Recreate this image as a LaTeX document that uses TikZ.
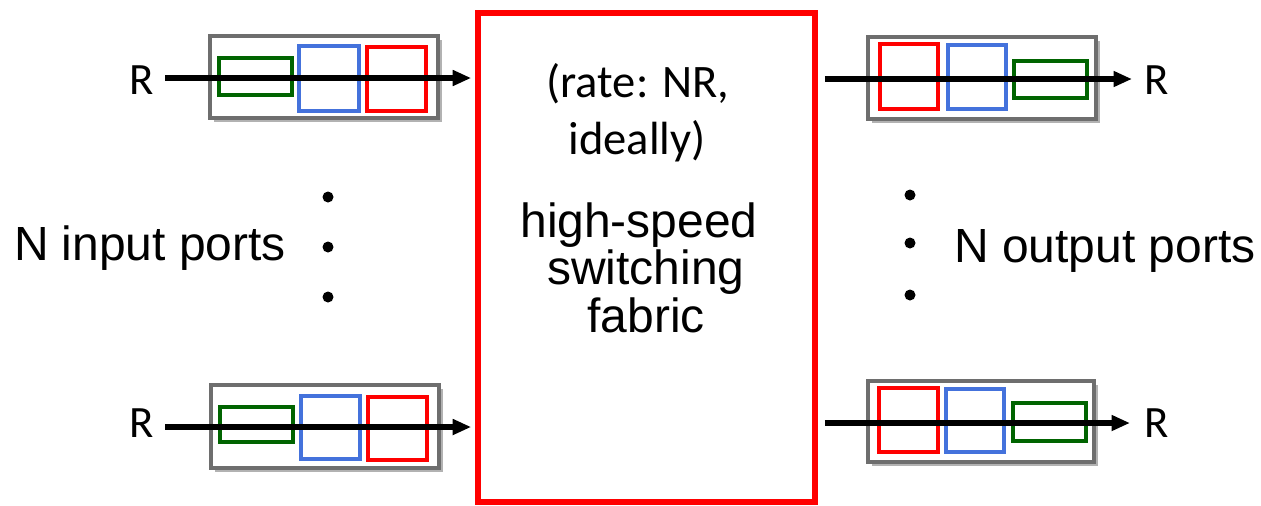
\documentclass[tikz,border=0pt]{standalone}
\usepackage{fontspec}
\setmainfont{Liberation Sans}
\newfontfamily\calib{Carlito}
\usetikzlibrary{arrows.meta,shadows}
\definecolor{qgreen}{RGB}{0,100,0}
\definecolor{qblue}{RGB}{68,114,220}
\definecolor{qred}{RGB}{255,0,0}
\definecolor{qgray}{RGB}{110,110,110}
\newcommand\pxl{0.02cm}
\begin{document}
\begin{tikzpicture}[x=0.02cm,y=-0.02cm,
  portbox/.style={draw=qgray,line width=1.9pt,fill=white,inner sep=0pt,
    drop shadow={shadow xshift=2pt,shadow yshift=-2.5pt,opacity=0.3,fill=black}},
  pkt/.style={draw=#1,line width=2pt,inner sep=0pt},
  arr/.style={line width=2.9pt,-{Triangle[length=10.5pt,width=8.5pt]}},
  fabricbox/.style={draw=qred,line width=3.2pt,fill=white,inner sep=0pt},
  arial/.style={font=\fontsize{27.3}{30}\selectfont,inner sep=0pt},
  calibri/.style={font=\calib\fontsize{26.5}{30}\selectfont,inner sep=0pt},
  rlab/.style={font=\calib\fontsize{25.5}{30}\selectfont,inner sep=0pt},
  dot/.style={circle,fill=black,inner sep=0pt,minimum size=11*\pxl}]
\useasboundingbox (0,0) rectangle (1261,505);

% switching fabric
\node[fabricbox,minimum width=337*\pxl,minimum height=489*\pxl] (fabric) at (646.5,257.5) {};
\node[calibri,anchor=base] (rate1) at (638,97) {(rate: NR,};
\node[calibri,anchor=base] (rate2) at (637,154) {ideally)};
\node[arial,anchor=base] (hs1) at (639,237) {high-speed};
\node[arial,anchor=base] (hs2) at (646,284) {switching};
\node[arial,anchor=base] (hs3) at (646,332) {fabric};

% input port top
\node[portbox,minimum width=228*\pxl,minimum height=82*\pxl] (btl) at (324,77) {};
\node[pkt=qgreen,minimum width=73*\pxl,minimum height=37*\pxl] (gtl) at (255.5,76.5) {};
\node[pkt=qblue,minimum width=60*\pxl,minimum height=65*\pxl] (ubtl) at (329,78.5) {};
\node[pkt=qred,minimum width=59*\pxl,minimum height=64*\pxl] (rdtl) at (396.5,79) {};
\node[rlab,anchor=base] (rtl) at (142,94) {R};
\coordinate (atl) at (165,78);
\draw[arr,shorten >=0.08cm] (atl) -- (atl -| fabric.west);

% input port bottom
\node[portbox,minimum width=228*\pxl,minimum height=83*\pxl] (bbl) at (325,426.5) {};
\node[pkt=qgreen,minimum width=73*\pxl,minimum height=35*\pxl] (gbl) at (256.5,424.5) {};
\node[pkt=qblue,minimum width=59*\pxl,minimum height=63*\pxl] (ubbl) at (330.5,427.5) {};
\node[pkt=qred,minimum width=59*\pxl,minimum height=63*\pxl] (rdbl) at (397.5,428.5) {};
\node[rlab,anchor=base] (rbl) at (142,437) {R};
\coordinate (abl) at (165,427);
\draw[arr,shorten >=0.08cm] (abl) -- (abl -| fabric.west);

% output port top
\node[portbox,minimum width=228*\pxl,minimum height=82*\pxl] (btr) at (982,78) {};
\node[pkt=qred,minimum width=58*\pxl,minimum height=65*\pxl] (rdtr) at (909,76.5) {};
\node[pkt=qblue,minimum width=58*\pxl,minimum height=64*\pxl] (ubtr) at (977,77) {};
\node[pkt=qgreen,minimum width=73*\pxl,minimum height=37*\pxl] (gtr) at (1050.5,79.5) {};
\node[rlab,anchor=base] (rtr) at (1157,94) {R};
\coordinate (atr) at (1132,79);
\draw[arr,shorten <=0.14cm] (atr -| fabric.east) -- (atr);

% output port bottom
\node[portbox,minimum width=226*\pxl,minimum height=81*\pxl] (bbr) at (981,421.5) {};
\node[pkt=qred,minimum width=59*\pxl,minimum height=64*\pxl] (rdbr) at (908.5,420) {};
\node[pkt=qblue,minimum width=58*\pxl,minimum height=63*\pxl] (ubbr) at (975,420.5) {};
\node[pkt=qgreen,minimum width=73*\pxl,minimum height=38*\pxl] (gbr) at (1049.5,422) {};
\node[rlab,anchor=base] (rbr) at (1157,437) {R};
\coordinate (abr) at (1130,423);
\draw[arr,shorten <=0.14cm] (abr -| fabric.east) -- (abr);

% labels and dots
\node[arial,anchor=base] (nin) at (150,260) {N input ports};
\node[arial,anchor=base] (nout) at (1105,262) {N output ports};
\node[dot] (dl1) at (328,197) {};
\node[dot] (dl2) at (328,247) {};
\node[dot] (dl3) at (328,297) {};
\node[dot] (dr1) at (910,195) {};
\node[dot] (dr2) at (910,243) {};
\node[dot] (dr3) at (910,295) {};
\end{tikzpicture}
\end{document}
